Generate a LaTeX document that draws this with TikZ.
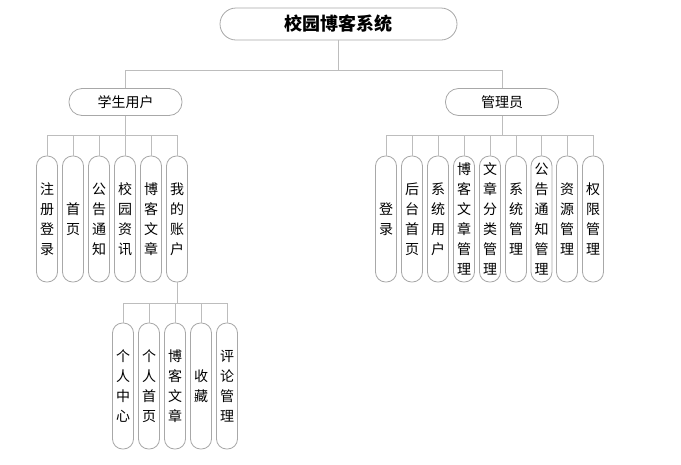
\documentclass[tikz,border=0pt]{standalone}
\usepackage{fontspec}
\newfontfamily\cjk{Noto Sans CJK SC}
\usetikzlibrary{calc}
\definecolor{linegray}{HTML}{BDBDBD}
\definecolor{bordergray}{HTML}{A8A8A8}
\tikzset{
  pill/.style={draw=bordergray, line width=0.8pt, rounded corners=13pt, fill=white, inner sep=0pt},
  rootbox/.style={pill, rounded corners=16pt, minimum width=237pt, minimum height=32pt, font=\cjk\bfseries\fontsize{18}{20}\selectfont},
  midbox/.style={pill, minimum width=113pt, minimum height=27pt, font=\cjk\fontsize{14}{20}\selectfont},
  leafbox/.style={pill, rounded corners=10pt, minimum width=21pt, minimum height=126pt, align=center, font=\cjk\fontsize{14}{20}\selectfont},
  conn/.style={draw=linegray, line width=0.9pt},
}
\begin{document}
\begin{tikzpicture}[x=1pt,y=-1pt]
\useasboundingbox (0,0) rectangle (681,464);
% buses
\coordinate (bus0) at (0,70);
\coordinate (busS) at (0,135);
\coordinate (busA) at (0,135);
\coordinate (busM) at (0,303);

\node[rootbox] (root) at (338.5,24) {校园博客系统};
\node[midbox] (stu) at (125.5,102) {学生用户};
\node[midbox] (adm) at (502,102) {管理员};

% student children
\node[leafbox] (s1) at (47,219) {注\\册\\登\\录};
\node[leafbox] (s2) at (73,219) {首\\页};
\node[leafbox] (s3) at (99,219) {公\\告\\通\\知};
\node[leafbox] (s4) at (125,219) {校\\园\\资\\讯};
\node[leafbox] (s5) at (151,219) {博\\客\\文\\章};
\node[leafbox] (s6) at (177,219) {我\\的\\账\\户};

% admin children
\node[leafbox] (a1) at (386,219) {登\\录};
\node[leafbox] (a2) at (412,219) {后\\台\\首\\页};
\node[leafbox] (a3) at (438,219) {系\\统\\用\\户};
\node[leafbox] (a4) at (464,219) {博\\客\\文\\章\\管\\理};
\node[leafbox] (a5) at (490,219) {文\\章\\分\\类\\管\\理};
\node[leafbox] (a6) at (516,219) {系\\统\\管\\理};
\node[leafbox] (a7) at (541.5,219) {公\\告\\通\\知\\管\\理};
\node[leafbox] (a8) at (567,219) {资\\源\\管\\理};
\node[leafbox] (a9) at (593,219) {权\\限\\管\\理};

% my account children
\node[leafbox] (m1) at (123,386) {个\\人\\中\\心};
\node[leafbox] (m2) at (149,386) {个\\人\\首\\页};
\node[leafbox] (m3) at (175,386) {博\\客\\文\\章};
\node[leafbox] (m4) at (201,386) {收\\藏};
\node[leafbox] (m5) at (227,386) {评\\论\\管\\理};

% connectors
\begin{scope}[on background layer/.style={}]
\foreach \c in {stu,adm}
  \draw[conn] (root.south) -- (root.south |- bus0) -| (\c.north);
\foreach \c in {s1,s2,s3,s4,s5,s6}
  \draw[conn] (stu.south) -- (stu.south |- busS) -| (\c.north);
\foreach \c in {a1,a2,a3,a4,a5,a6,a7,a8,a9}
  \draw[conn] (adm.south) -- (adm.south |- busA) -| (\c.north);
\foreach \c in {m1,m2,m3,m4,m5}
  \draw[conn] (s6.south) -- (s6.south |- busM) -| (\c.north);
\end{scope}
\end{tikzpicture}
\end{document}
